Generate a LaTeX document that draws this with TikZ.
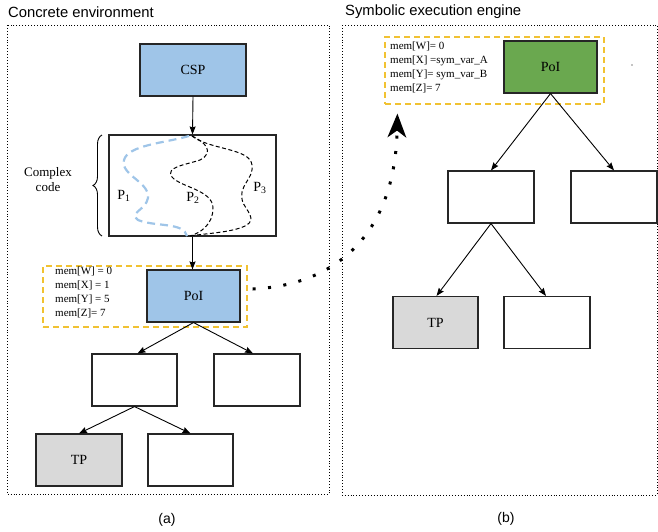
\documentclass[tikz,border=0pt]{standalone}
\usepackage{fontspec}
\setmainfont{Liberation Serif}
\setsansfont{Liberation Sans}
\usetikzlibrary{arrows.meta,decorations.pathreplacing}
\definecolor{boxblue}{HTML}{9FC5E8}
\definecolor{boxgreen}{HTML}{6AA84F}
\definecolor{boxgray}{HTML}{D9D9D9}
\definecolor{memorange}{HTML}{F1C232}
\begin{document}
\begin{tikzpicture}[x=1pt,y=-1pt,
  box/.style={draw=black!85,line width=1.1pt,minimum width=#1,minimum height=52pt,inner sep=0pt,font=\fontsize{14}{16}\selectfont},
  box/.default=86pt,
  panel/.style={draw,dotted,line width=0.9pt},
  membox/.style={draw=memorange,line width=1.2pt,dash pattern=on 6pt off 4pt,inner sep=0pt},
  memtext/.style={align=left,anchor=north west,inner sep=0pt,font=\fontsize{11}{14}\selectfont},
  arr/.style={-{Stealth[length=8pt,width=6pt,inset=1pt]},line width=0.9pt},
  title/.style={font=\sffamily\fontsize{14.8}{16}\selectfont,anchor=west,inner sep=0pt},
  pathline/.style={line width=1pt,dash pattern=on 4pt off 2.5pt},
]
\useasboundingbox (0,0) rectangle (658,531);
% panels
\node[title] (ta) at (8,12) {Concrete environment};
\node[title] (tb) at (345,12) {Symbolic execution engine};
\draw[panel] (7,25) rectangle (329,494);
\draw[panel] (342,25) rectangle (657,495);
\node[font=\sffamily\fontsize{14}{16}\selectfont] (la) at (167,520) {(a)};
\node[font=\sffamily\fontsize{14}{16}\selectfont] (lb) at (506,519) {(b)};

% ---- panel (a)
\node[box=106pt,fill=boxblue] (csp) at (193,70) {CSP};
\node[draw=black!85,line width=1.1pt,minimum width=167pt,minimum height=101pt,inner sep=0pt] (cc) at (192.5,185.5) {};
\draw[arr] (csp.south) -- (cc.north);
% paths inside complex code
\draw[draw=boxblue,line width=2.2pt,dash pattern=on 8pt off 5pt]
  (189,136) .. controls (165,143) and (128,145) .. (124,160)
  .. controls (120,175) and (150,182) .. (148,198)
  .. controls (146,210) and (128,213) .. (138,220)
  .. controls (155,227) and (184,222) .. (187,236);
\draw[pathline]
  (192,136) .. controls (205,142) and (215,152) .. (200,160)
  .. controls (185,165) and (165,167) .. (172,177)
  .. controls (180,187) and (213,190) .. (213,208)
  .. controls (213,225) and (200,233) .. (190,236);
\draw[pathline]
  (192,136) .. controls (210,150) and (250,148) .. (252,165)
  .. controls (254,180) and (237,185) .. (243,203)
  .. controls (250,215) and (258,222) .. (240,228)
  .. controls (225,233) and (200,234) .. (190,236);
\node[font=\fontsize{14}{16}\selectfont,inner sep=0pt] (p1) at (124,196) {P\textsubscript{1}};
\node[font=\fontsize{14}{16}\selectfont,inner sep=0pt] (p2) at (193,198) {P\textsubscript{2}};
\node[font=\fontsize{14}{16}\selectfont,inner sep=0pt] (p3) at (260,188) {P\textsubscript{3}};
% brace
\draw[decorate,decoration={brace,amplitude=9pt},line width=0.9pt] (102,236) -- (102,135);
\node[font=\fontsize{13}{15}\selectfont,align=center] (cx) at (48,180) {Complex\\code};

\node[membox,minimum width=204pt,minimum height=61pt] (oa) at (145,296.5) {};
\node[memtext] (mema) at (55,267) {mem[W] = 0\\mem[X] = 1\\mem[Y] = 5\\mem[Z]= 7};
\node[box=93pt,fill=boxblue] (poia) at (193.5,296) {PoI};
\draw[arr] (cc.south) -- (cc.south |- poia.north);

\node[box=85pt] (a21) at (134.5,380) {};
\node[box=86pt] (a22) at (257,380) {};
\node[box=86pt,fill=boxgray] (a31) at (79,460) {TP};
\node[box=85pt] (a32) at (190.5,460) {};
\draw[arr] (poia.south) -- ([xshift=3pt]a21.north);
\draw[arr] (poia.south) -- ([xshift=-4pt]a22.north);
\draw[arr] (a21.south) -- (a31.north);
\draw[arr] (a21.south) -- (a32.north);

% ---- panel (b)
\node[membox,minimum width=219pt,minimum height=67pt] (ob) at (494.5,70.5) {};
\node[memtext] (memb) at (390,42) {mem[W]= 0\\mem[X] =sym\_var\_A\\mem[Y]= sym\_var\_B\\mem[Z]= 7};
\node[box=93pt,fill=boxgreen] (poib) at (550.5,67) {PoI};
\fill (632,65) circle (0.6pt);

\node[box=86pt] (b21) at (491,197) {};
\node[box=86pt] (b22) at (614,197) {};
\node[box=85pt,fill=boxgray] (b31) at (435.5,322.5) {TP};
\node[box=86pt] (b32) at (547,322.5) {};
\draw[arr] (poib.south) -- (b21.north);
\draw[arr] (poib.south) -- (b22.north);
\draw[arr] (b21.south) -- ([xshift=1pt]b31.north);
\draw[arr] (b21.south) -- ([xshift=-1pt]b32.north);

% dotted transfer arrow
\coordinate (tip) at ([xshift=13pt,yshift=-9pt]ob.south west);
\draw[line width=3pt,dash pattern=on 3pt off 12.5pt,-{Stealth[length=24pt,width=19pt,inset=7pt,line width=0pt]}]
  ([xshift=5pt,yshift=7.5pt]oa.east) .. controls (340,285) and (395,230) .. (tip);
\end{tikzpicture}
\end{document}
